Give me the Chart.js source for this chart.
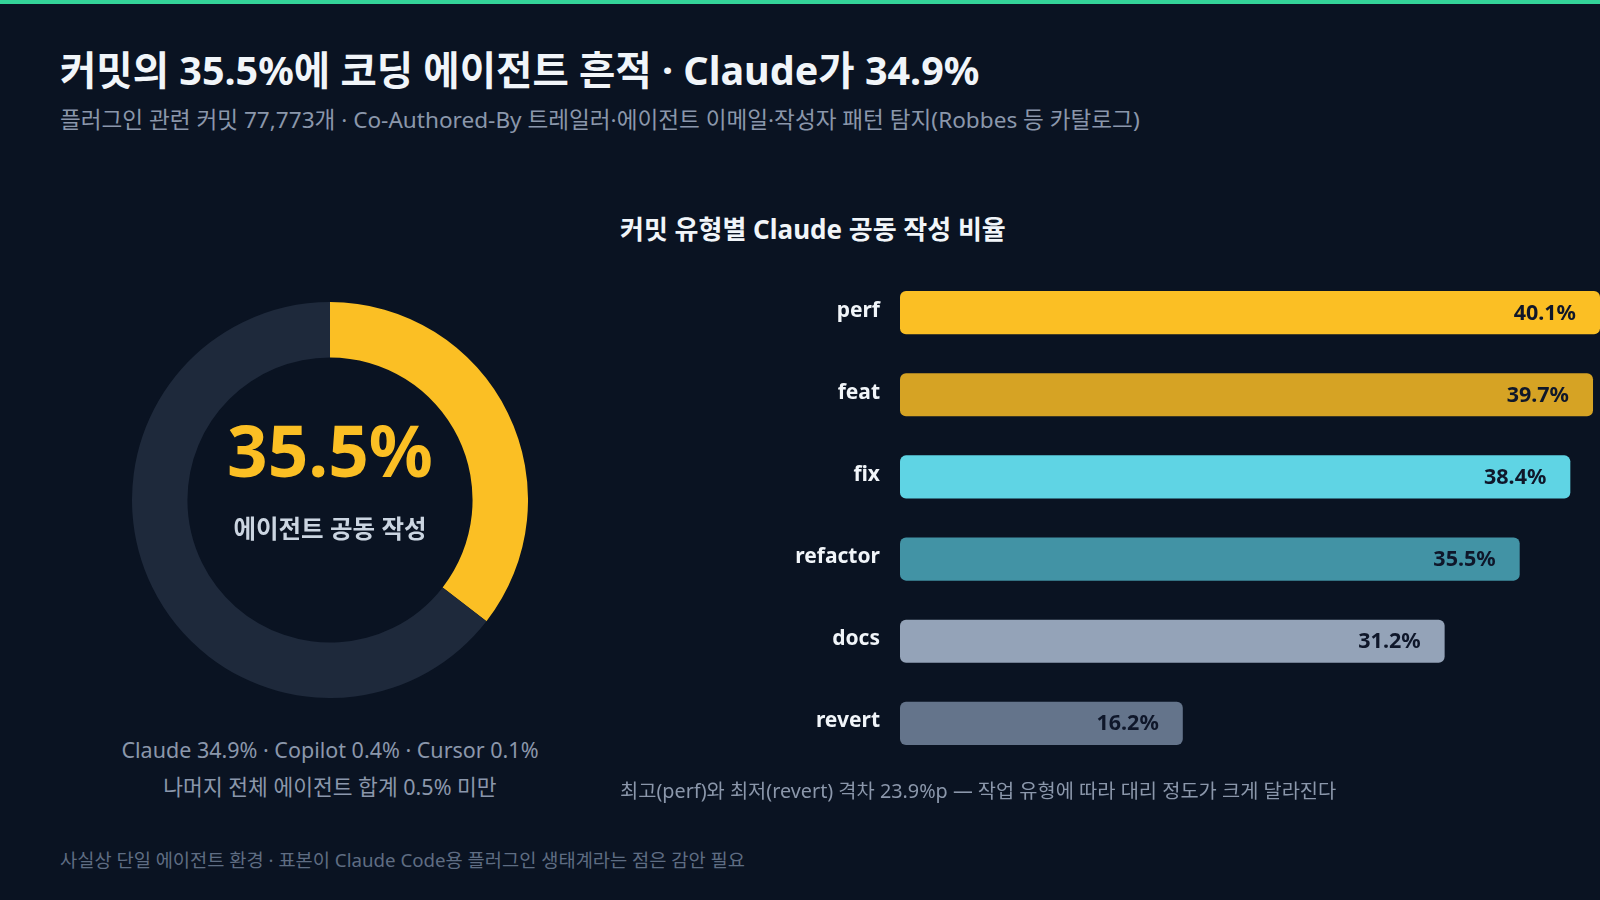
<!DOCTYPE html>
<html lang="ko">
<head>
<meta charset="utf-8">
<script src="https://cdn.jsdelivr.net/npm/chart.js@4.4.1/dist/chart.umd.min.js"></script>
<style>
  html, body { margin: 0; padding: 0; }
  body {
    width: 1600px; height: 900px; overflow: hidden; position: relative;
    background: #0a1322;
    font-family: "Noto Sans", "Noto Sans CJK KR", sans-serif;
  }
  .topbar { position: absolute; left: 0; top: 0; width: 1600px; height: 4px; background: #34d399; }
  .abs { position: absolute; white-space: nowrap; }
  #title { left: 60px; top: 46px; font-size: 39.5px; font-weight: 700; color: #f1f5f9; line-height: 48px; }
  #subtitle { left: 60px; top: 106px; font-size: 22.6px; color: #8b97ab; line-height: 28px; }
  #barTitle { left: 620px; top: 212px; font-size: 26px; font-weight: 700; color: #f1f5f9; line-height: 34px; }
  #donutWrap { left: 132px; top: 302px; width: 396px; height: 396px; }
  #barWrap { left: 700px; top: 239px; width: 900px; height: 558px; }
  #bigPct { left: 130px; width: 400px; top: 404px; text-align: center; font-size: 71px; font-weight: 700; color: #fbbf24; line-height: 92px; }
  #bigLabel { left: 130px; width: 400px; top: 513px; text-align: center; font-size: 24.5px; font-weight: 700; color: #cbd5e1; line-height: 32px; }
  #caption { left: 80px; width: 500px; top: 732px; text-align: center; font-size: 21.5px; color: #8b97ab; line-height: 36.5px; }
  #note { left: 620px; top: 778px; font-size: 19.8px; color: #8b97ab; line-height: 26px; }
  #footer { left: 60px; top: 848px; font-size: 18.7px; color: #5f6d83; line-height: 24px; }
</style>
</head>
<body>
<div class="topbar"></div>
<div class="abs" id="title">커밋의 35.5%에 코딩 에이전트 흔적 · Claude가 34.9%</div>
<div class="abs" id="subtitle">플러그인 관련 커밋 77,773개 · Co-Authored-By 트레일러·에이전트 이메일·작성자 패턴 탐지(Robbes 등 카탈로그)</div>

<div class="abs" id="donutWrap"><canvas id="donutChart"></canvas></div>
<div class="abs" id="bigPct">35.5%</div>
<div class="abs" id="bigLabel">에이전트 공동 작성</div>
<div class="abs" id="caption">Claude 34.9% · Copilot 0.4% · Cursor 0.1%<br>나머지 전체 에이전트 합계 0.5% 미만</div>

<div class="abs" id="barTitle">커밋 유형별 Claude 공동 작성 비율</div>
<div class="abs" id="barWrap"><canvas id="barChart"></canvas></div>
<div class="abs" id="note">최고(perf)와 최저(revert) 격차 23.9%p — 작업 유형에 따라 대리 정도가 크게 달라진다</div>

<div class="abs" id="footer">사실상 단일 에이전트 환경 · 표본이 Claude Code용 플러그인 생태계라는 점은 감안 필요</div>

<script>
// donut: agent co-authored share vs rest
const donutLabels = ['에이전트 공동 작성', '기타'];
const donutValues = [35.5, 64.5];
const donutColors = ['#fbbf24', '#1e293b'];

// bars: Claude co-authorship by commit type
const commitTypes = ['perf', 'feat', 'fix', 'refactor', 'docs', 'revert'];
const claudeShare = [40.1, 39.7, 38.4, 35.5, 31.2, 16.2];
const barColors = ['#fbbf24', '#d6a324', '#5fd4e4', '#4293a5', '#94a3b8', '#64748b'];

const fontStack = '"Noto Sans", "Noto Sans CJK KR", sans-serif';
Chart.defaults.font.family = fontStack;
Chart.defaults.animation = false;

new Chart(document.getElementById('donutChart'), {
    type: 'doughnut',
    data: {
        labels: donutLabels,
        datasets: [{
            data: donutValues,
            backgroundColor: donutColors,
            borderWidth: 0
        }]
    },
    options: {
        responsive: true,
        maintainAspectRatio: false,
        cutout: '72%',
        layout: { padding: 0 },
        plugins: {
            legend: { display: false },
            tooltip: { enabled: false }
        }
    }
});

// value labels drawn inside the right end of each bar
const valueLabels = {
    id: 'valueLabels',
    afterDatasetsDraw(chart) {
        const ctx = chart.ctx;
        const meta = chart.getDatasetMeta(0);
        ctx.save();
        ctx.font = '700 21.5px ' + fontStack;
        ctx.fillStyle = '#0f172a';
        ctx.textAlign = 'right';
        ctx.textBaseline = 'middle';
        meta.data.forEach((bar, i) => {
            ctx.fillText(claudeShare[i].toFixed(1) + '%', bar.x - 24, bar.y + 1);
        });
        ctx.restore();
    }
};

new Chart(document.getElementById('barChart'), {
    type: 'bar',
    data: {
        labels: commitTypes,
        datasets: [{
            data: claudeShare,
            backgroundColor: barColors,
            borderWidth: 0,
            borderRadius: 6,
            borderSkipped: false,
            barPercentage: 0.525,
            categoryPercentage: 1.0
        }]
    },
    options: {
        indexAxis: 'y',
        responsive: true,
        maintainAspectRatio: false,
        layout: { padding: 0 },
        scales: {
            x: {
                display: false,
                min: 0,
                max: 40.1
            },
            y: {
                afterFit(scale) { scale.width = 200; },
                grid: { display: false, drawTicks: false },
                border: { display: false },
                ticks: {
                    color: '#f1f5f9',
                    padding: 20,
                    labelOffset: -2,
                    font: { size: 21, weight: '700' }
                }
            }
        },
        plugins: {
            legend: { display: false },
            tooltip: { enabled: false }
        }
    },
    plugins: [valueLabels]
});
</script>
</body>
</html>
